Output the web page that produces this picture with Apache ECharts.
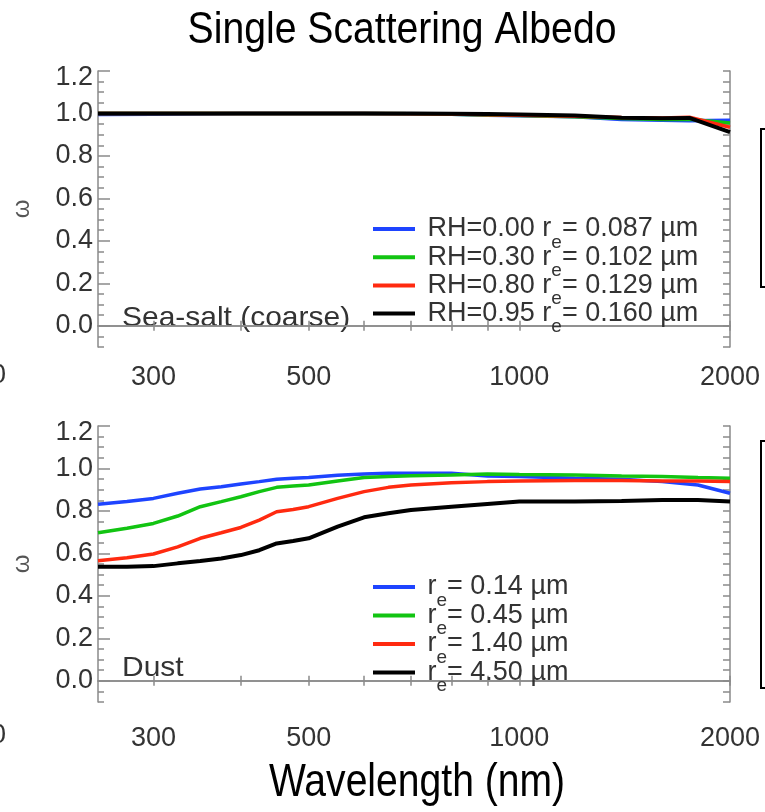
<!DOCTYPE html>
<html>
<head>
<meta charset="utf-8">
<script src="https://cdn.jsdelivr.net/npm/echarts@6/dist/echarts.min.js"></script>
<style>
  html, body { margin: 0; padding: 0; background: #fff; }
  #chart { width: 765px; height: 812px; }
</style>
</head>
<body>
<div id="chart"></div>
<script>
// Wavelength grids (nm)
const seaSaltWavelength = [250, 300, 400, 500, 600, 700, 800, 900, 1000, 1200, 1400, 1600, 1750, 2000];
const dustWavelength = [250, 275, 300, 325, 350, 375, 400, 425, 450, 475, 500, 550, 600, 650, 700, 800, 900, 1000, 1200, 1400, 1600, 1800, 2000];

// Sea-salt (coarse) single scattering albedo for four relative humidities
const seaSaltRH000 = [0.995, 0.996, 1.0, 1.0, 1.0, 0.998, 0.996, 0.992, 0.989, 0.984, 0.972, 0.968, 0.966, 0.968];
const seaSaltRH030 = [1.0, 1.0, 1.0, 1.0, 1.0, 0.999, 0.996, 0.993, 0.990, 0.985, 0.976, 0.972, 0.973, 0.955];
const seaSaltRH080 = [1.0, 1.0, 1.0, 1.0, 1.0, 0.999, 0.997, 0.994, 0.991, 0.987, 0.981, 0.979, 0.982, 0.935];
const seaSaltRH095 = [1.0, 1.0, 1.0, 1.0, 1.0, 1.0, 0.999, 0.998, 0.995, 0.990, 0.980, 0.977, 0.979, 0.912];

// Dust single scattering albedo for four effective radii
const dustRe014 = [0.831, 0.844, 0.859, 0.883, 0.903, 0.914, 0.927, 0.938, 0.949, 0.954, 0.957, 0.968, 0.974, 0.977, 0.977, 0.977, 0.965, 0.962, 0.954, 0.949, 0.938, 0.922, 0.883];
const dustRe045 = [0.697, 0.718, 0.741, 0.776, 0.820, 0.844, 0.867, 0.891, 0.911, 0.917, 0.922, 0.941, 0.957, 0.962, 0.966, 0.969, 0.974, 0.972, 0.969, 0.965, 0.962, 0.957, 0.954];
const dustRe140 = [0.565, 0.579, 0.597, 0.631, 0.671, 0.697, 0.722, 0.757, 0.796, 0.807, 0.820, 0.859, 0.891, 0.911, 0.922, 0.933, 0.938, 0.941, 0.943, 0.943, 0.941, 0.941, 0.938];
const dustRe450 = [0.537, 0.537, 0.540, 0.553, 0.564, 0.576, 0.592, 0.615, 0.647, 0.658, 0.671, 0.726, 0.770, 0.789, 0.804, 0.820, 0.833, 0.844, 0.844, 0.847, 0.851, 0.851, 0.844];

// Legend labels
const seaSaltLabels = ['RH=0.00 r_e= 0.087 µm', 'RH=0.30 r_e= 0.102 µm', 'RH=0.80 r_e= 0.129 µm', 'RH=0.95 r_e= 0.160 µm'];
const dustLabels = ['r_e= 0.14 µm', 'r_e= 0.45 µm', 'r_e= 1.40 µm', 'r_e= 4.50 µm'];

// Axis ticks and labels
const xLabelValues = [300, 500, 1000, 2000];
const xTickValues = [300, 400, 500, 600, 700, 800, 900, 1000, 2000];
const yLabelValues = [0.0, 0.2, 0.4, 0.6, 0.8, 1.0, 1.2];

const lineColors = ['#1e44ff', '#12c412', '#ff2a10', '#000000'];
const FONT = '"Liberation Sans", Arial, Helvetica, sans-serif';
const frameColor = '#8a8a8a';
const textColor = '#333';

const chart = echarts.init(document.getElementById('chart'), null, { renderer: 'canvas' });

function pairs(xs, ys) { return xs.map((x, i) => [x, ys[i]]); }

const panels = [
  { top: 71, xs: seaSaltWavelength, ys: [seaSaltRH000, seaSaltRH030, seaSaltRH080, seaSaltRH095], names: seaSaltLabels, legendTop: 215, legendGap: -8.8, labelMargin: 17 },
  { top: 426, xs: dustWavelength, ys: [dustRe014, dustRe045, dustRe140, dustRe450], names: dustLabels, legendTop: 573, legendGap: -8.5, labelMargin: 23 }
];

const grid = [], xAxis = [], yAxis = [], series = [], legend = [];

panels.forEach((p, gi) => {
  grid.push({ left: 98, right: 35, top: p.top, height: 276, containLabel: false });

  // bottom wavelength axis (log scale)
  xAxis.push({
    type: 'log', gridIndex: gi, position: 'bottom', min: 250, max: 2000, logBase: 10,
    axisLine: { show: true, lineStyle: { color: frameColor, width: 1.5 } },
    axisTick: { show: true, inside: false, length: 5, customValues: xTickValues, lineStyle: { color: frameColor, width: 1.5 } },
    minorTick: { show: false },
    axisLabel: { show: true, customValues: xLabelValues, margin: p.labelMargin, fontSize: 27, fontFamily: FONT, color: textColor,
      formatter: v => String(Math.round(v)) },
    splitLine: { show: false }
  });
  // top frame edge with outward ticks
  xAxis.push({
    type: 'log', gridIndex: gi, position: 'top', min: 250, max: 2000, logBase: 10,
    axisLine: { show: true, lineStyle: { color: frameColor, width: 1.5 } },
    axisTick: { show: true, inside: false, length: 5, customValues: xTickValues, lineStyle: { color: frameColor, width: 1.5 } },
    axisLabel: { show: false },
    splitLine: { show: false }
  });

  // main left axis: minor ticks every 0.05, labels every 0.2
  yAxis.push({
    type: 'value', gridIndex: gi, position: 'left', min: -0.1, max: 1.2, interval: 0.05,
    name: 'ω', nameLocation: 'middle', nameRotate: 90, nameGap: 64,
    nameTextStyle: { fontSize: 24, color: '#555', fontFamily: FONT },
    axisLine: { show: true, lineStyle: { color: frameColor, width: 1.5 } },
    axisTick: { show: true, inside: true, length: 6, lineStyle: { color: frameColor, width: 1.5 } },
    axisLabel: { show: true, customValues: yLabelValues, margin: 5, fontSize: 27, fontFamily: FONT, color: textColor,
      formatter: v => (Math.abs(v - 1.2) < 1e-6 ? '{t|1.2}' : v.toFixed(1)),
      rich: { t: { fontSize: 27, fontFamily: FONT, color: textColor, padding: [14, 0, 0, 0] } } },
    splitLine: { show: false }
  });
  // major left ticks
  yAxis.push({
    type: 'value', gridIndex: gi, position: 'left', min: -0.1, max: 1.2,
    axisLine: { show: false },
    axisTick: { show: true, inside: true, length: 12, customValues: yLabelValues, lineStyle: { color: frameColor, width: 1.5 } },
    axisLabel: { show: false },
    splitLine: { show: false }
  });
  // right frame edge
  yAxis.push({
    type: 'value', gridIndex: gi, position: 'right', min: -0.1, max: 1.2, interval: 0.05,
    axisLine: { show: true, lineStyle: { color: frameColor, width: 1.5 } },
    axisTick: { show: true, inside: true, length: 7, lineStyle: { color: frameColor, width: 1.5 } },
    axisLabel: { show: false },
    splitLine: { show: false }
  });

  p.ys.forEach((vals, si) => {
    series.push({
      type: 'line', name: p.names[si], xAxisIndex: gi * 2, yAxisIndex: gi * 3,
      data: pairs(p.xs, vals), showSymbol: false, symbol: 'none', smooth: false,
      lineStyle: { color: lineColors[si], width: si === 3 ? 4 : 3.5 },
      itemStyle: { color: lineColors[si] },
      z: 2 + si, animation: false
    });
  });

  legend.push({
    data: p.names, orient: 'vertical', left: 373, top: p.legendTop,
    icon: 'rect', itemWidth: 42, itemHeight: 4, itemGap: p.legendGap,
    selectedMode: false, padding: 0,
    formatter: name => ' ' + name.replace('r_e', 'r{sub|e}'),
    textStyle: {
      fontSize: 27, lineHeight: 28, fontFamily: FONT, color: textColor,
      rich: { sub: { fontSize: 19, lineHeight: 28, fontFamily: FONT, color: textColor, verticalAlign: 'top', padding: [18, 0, 0, 0] } }
    }
  });
});

const graphic = [
  { type: 'text', x: 402, y: 31, scaleX: 0.89, style: { text: 'Single Scattering Albedo', fontSize: 44, fontFamily: FONT, fill: '#000', align: 'center', verticalAlign: 'middle' } },
  { type: 'text', x: 417, y: 783, scaleX: 0.85, style: { text: 'Wavelength (nm)', fontSize: 46, fontFamily: FONT, fill: '#000', align: 'center', verticalAlign: 'middle' } },
  { type: 'text', x: 122, y: 318, scaleX: 1.07, style: { text: 'Sea-salt (coarse)', fontSize: 28, fontFamily: FONT, fill: textColor, align: 'left', verticalAlign: 'middle' } },
  { type: 'text', x: 122, y: 668, scaleX: 1.07, style: { text: 'Dust', fontSize: 28, fontFamily: FONT, fill: textColor, align: 'left', verticalAlign: 'middle' } },
  { type: 'text', x: 6, y: 376, style: { text: '200', fontSize: 27, fontFamily: FONT, fill: textColor, align: 'right', verticalAlign: 'middle' } },
  { type: 'text', x: 6, y: 736, style: { text: '200', fontSize: 27, fontFamily: FONT, fill: textColor, align: 'right', verticalAlign: 'middle' } },
  { type: 'rect', shape: { x: 761, y: 129, width: 30, height: 158 }, style: { fill: '#fff', stroke: '#000', lineWidth: 2 } },
  { type: 'rect', shape: { x: 761, y: 441, width: 30, height: 247 }, style: { fill: '#fff', stroke: '#000', lineWidth: 2 } }
];

chart.setOption({
  animation: false,
  backgroundColor: '#fff',
  grid, xAxis, yAxis, series, legend, graphic
});
</script>
</body>
</html>
